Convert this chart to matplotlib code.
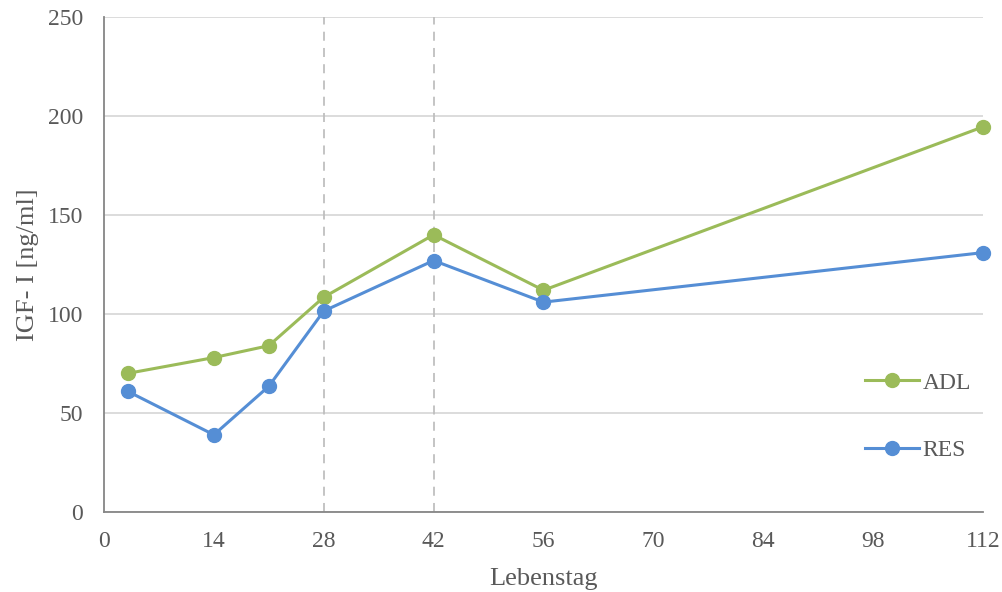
import matplotlib.pyplot as plt

plt.rcParams["font.family"] = ["Liberation Serif", "DejaVu Serif"]

days = [3, 14, 21, 28, 42, 56, 112]
adl = [70, 78, 84, 108.5, 140, 112, 194.5]
res = [61, 39, 63.5, 101.5, 127, 106, 131]
x_ticks = [0, 14, 28, 42, 56, 70, 84, 98, 112]
y_ticks = [0, 50, 100, 150, 200, 250]
marker_days = [28, 42]

GREEN = "#9BBB59"
BLUE = "#558ED5"
TEXT = "#595959"
GRID = "#D9D9D9"
SPINE = "#868686"

fig = plt.figure(figsize=(10.03, 5.92), dpi=100)
ax = fig.add_axes([0.1037, 0.1351, 0.8763, 0.8362])

for d in marker_days:
    ax.axvline(d, color="#BFBFBF", linestyle=(0, (5, 4)), linewidth=1.3, zorder=1)

ax.plot(days, adl, color=GREEN, linewidth=2.2, marker="o", markersize=10,
        label="ADL", zorder=3, clip_on=False)
ax.plot(days, res, color=BLUE, linewidth=2.2, marker="o", markersize=10,
        label="RES", zorder=3, clip_on=False)

ax.set_xlim(0, 112)
ax.set_ylim(0, 250)
ax.set_xticks(x_ticks)
ax.set_yticks(y_ticks)
ax.yaxis.grid(True, color=GRID, linewidth=1.3)
ax.set_axisbelow(True)
ax.tick_params(length=0, labelsize=17, labelcolor=TEXT)
ax.tick_params(axis="y", pad=15)
ax.tick_params(axis="x", pad=14)
for side in ("top", "right"):
    ax.spines[side].set_visible(False)
for side in ("left", "bottom"):
    ax.spines[side].set_color(SPINE)
    ax.spines[side].set_linewidth(1.3)

ax.set_xlabel("Lebenstag", fontsize=19, color=TEXT, labelpad=11)
ax.set_ylabel("IGF- I [ng/ml]", fontsize=19, color=TEXT, labelpad=6)

ax.legend(loc="center left", bbox_to_anchor=(0.862, 0.296), bbox_transform=fig.transFigure,
          frameon=False, fontsize=17, labelcolor=TEXT, handlelength=2.3,
          labelspacing=1.95, handletextpad=0.15, borderaxespad=0, borderpad=0)

fig.savefig("out.png", dpi=100)
